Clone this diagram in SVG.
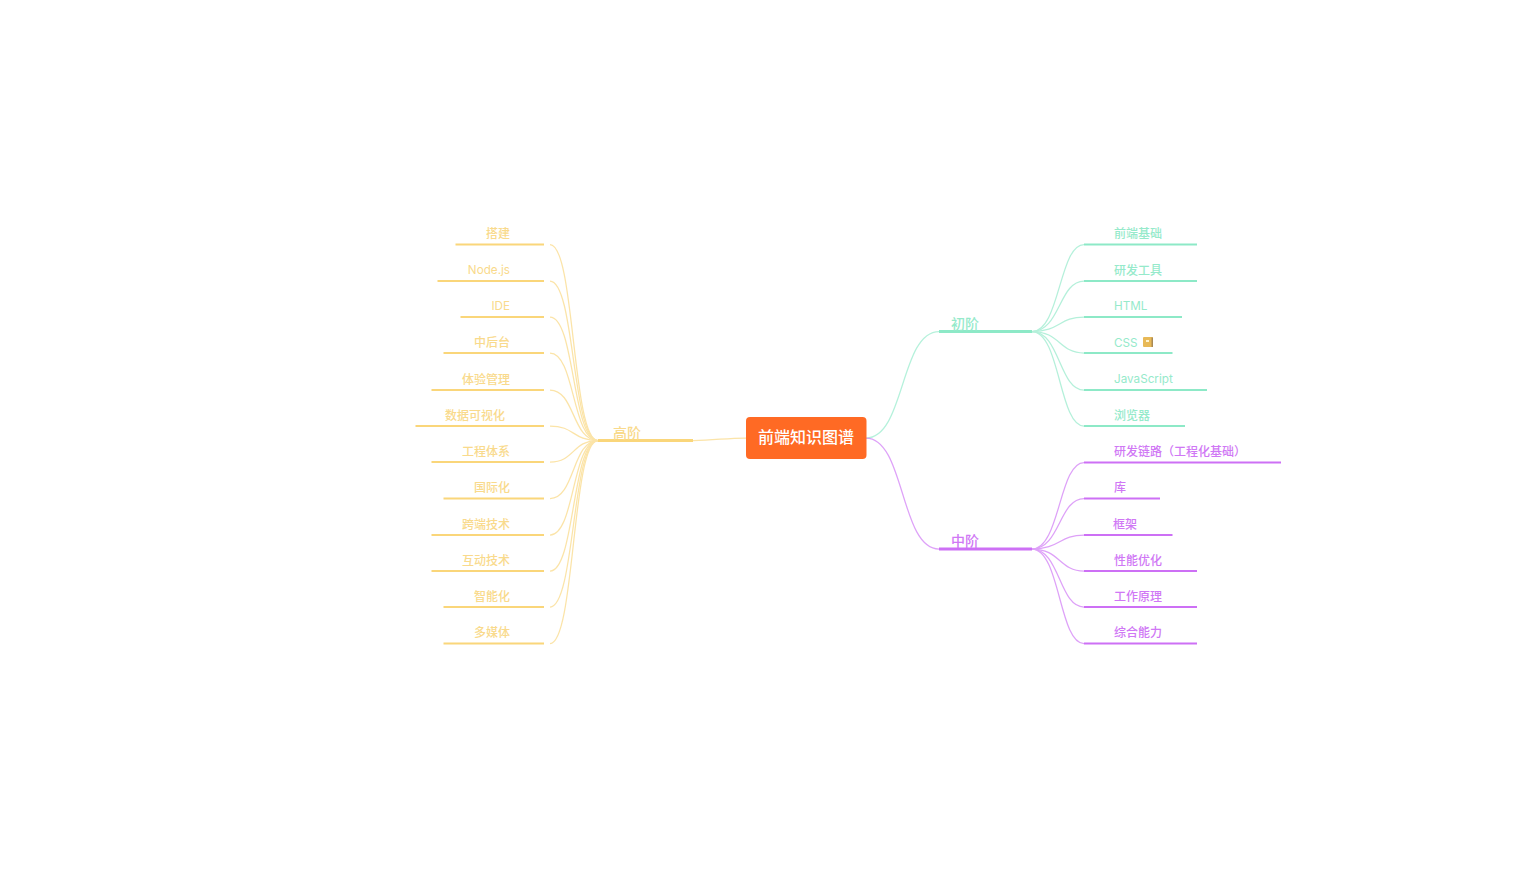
<svg xmlns="http://www.w3.org/2000/svg" width="1536" height="877" viewBox="0 0 1536 877">
<style>
text{font-family:"Inter","Noto Sans CJK SC","Noto Sans",sans-serif;font-size:12px;font-weight:500}
.m{font-size:14px}
.l{font-size:11.7px;font-weight:400}
.g{fill:#96eacb}.p{fill:#d078f5}.y{fill:#f9da8c}
.e{text-anchor:end}
.u{fill:none;stroke-width:2}
.c{fill:none;stroke-width:1.25;opacity:.65}
.gs{stroke:#8de9c7}.ps{stroke:#cd70f5}.ys{stroke:#fad67a}
.t{stroke-width:3}
</style>
<rect width="1536" height="877" fill="#fff"/>
<g id="connectors">
<g class="c gs">
<path d="M866 438C905 438 900 331.5 939 331.5"/>
<path d="M1032 331.5C1060 331.5 1059 244.5 1084 244.5"/>
<path d="M1032 331.5C1060 331.5 1059 281 1084 281"/>
<path d="M1032 331.5C1060 331.5 1059 317 1084 317"/>
<path d="M1032 331.5C1060 331.5 1059 353 1084 353"/>
<path d="M1032 331.5C1060 331.5 1059 390 1084 390"/>
<path d="M1032 331.5C1060 331.5 1059 426 1084 426"/>
</g>
<g class="c ps">
<path d="M866 438C905 438 900 549 939 549"/>
<path d="M1032 549C1060 549 1059 462.500 1084 462.500"/>
<path d="M1032 549C1060 549 1059 498.500 1084 498.500"/>
<path d="M1032 549C1060 549 1059 535 1084 535"/>
<path d="M1032 549C1060 549 1059 571 1084 571"/>
<path d="M1032 549C1060 549 1059 607 1084 607"/>
<path d="M1032 549C1060 549 1059 643.500 1084 643.500"/>
</g>
<g class="c ys">
<path d="M746 438C725 438 715 440.500 693 440.500"/>
<path d="M598 440.500C572 440.500 575 244.500 550 244.500"/>
<path d="M598 440.500C572 440.500 575 281 550 281"/>
<path d="M598 440.500C572 440.500 575 317 550 317"/>
<path d="M598 440.500C572 440.500 575 353 550 353"/>
<path d="M598 440.500C572 440.500 575 390 550 390"/>
<path d="M598 440.500C572 440.500 575 426 550 426"/>
<path d="M598 440.500C572 440.500 575 462 550 462"/>
<path d="M598 440.500C572 440.500 575 498.500 550 498.500"/>
<path d="M598 440.500C572 440.500 575 535 550 535"/>
<path d="M598 440.500C572 440.500 575 571 550 571"/>
<path d="M598 440.500C572 440.500 575 607 550 607"/>
<path d="M598 440.500C572 440.500 575 643.500 550 643.500"/>
</g>
</g>
<g id="root">
<rect x="746" y="417" width="120.500" height="42" rx="4" fill="#ff6a24"/>
<text x="806" y="443" text-anchor="middle" fill="#fff" style="font-size:16px">前端知识图谱</text>
</g>
<g id="n-chujie"><path class="u t gs" d="M939 331.500H1032"/><text class="m g" x="951" y="328.500">初阶</text></g>
<g id="n-zhongjie"><path class="u t ps" d="M939 549H1032"/><text class="m p" x="951" y="546">中阶</text></g>
<g id="n-gaojie"><path class="u t ys" d="M598 440.500H693"/><text class="m y" x="613" y="437.500">高阶</text></g>
<g id="g1"><path class="u gs" d="M1084 244.500H1197"/><text class="g" x="1114" y="238">前端基础</text></g>
<g id="g2"><path class="u gs" d="M1084 281H1197"/><text class="g" x="1114" y="274.500">研发工具</text></g>
<g id="g3"><path class="u gs" d="M1084 317H1182"/><text class="g l" x="1114" y="310">HTML</text></g>
<g id="g4"><path class="u gs" d="M1084 353H1172.500"/><text class="g l" x="1114" y="346.500">CSS</text>
<rect x="1143" y="337" width="10" height="10" rx="1" fill="#e8b957"/><rect x="1151.500" y="337.500" width="1.500" height="9.500" fill="#a98a55"/><rect x="1146" y="340" width="3" height="2" fill="#fff3cf"/></g>
<g id="g5"><path class="u gs" d="M1084 390H1207"/><text class="g l" x="1114" y="383">JavaScript</text></g>
<g id="g6"><path class="u gs" d="M1084 426H1185"/><text class="g" x="1114" y="419.500">浏览器</text></g>
<g id="p1"><path class="u ps" d="M1084 462.500H1281"/><text class="p" x="1114" y="456">研发链路（工程化基础）</text></g>
<g id="p2"><path class="u ps" d="M1084 498.500H1160"/><text class="p" x="1114" y="492">库</text></g>
<g id="p3"><path class="u ps" d="M1084 535H1172.500"/><text class="p" x="1113" y="528.500">框架</text></g>
<g id="p4"><path class="u ps" d="M1084 571H1197"/><text class="p" x="1114" y="564.500">性能优化</text></g>
<g id="p5"><path class="u ps" d="M1084 607H1197"/><text class="p" x="1114" y="601">工作原理</text></g>
<g id="p6"><path class="u ps" d="M1084 643.500H1197"/><text class="p" x="1114" y="637">综合能力</text></g>
<g id="y1"><path class="u ys" d="M455.500 244.500H544"/><text class="y e" x="510" y="238">搭建</text></g>
<g id="y2"><path class="u ys" d="M437.500 281H544"/><text class="y e l" x="510" y="274">Node.js</text></g>
<g id="y3"><path class="u ys" d="M460.500 317H544"/><text class="y e l" x="510" y="310">IDE</text></g>
<g id="y4"><path class="u ys" d="M443.500 353H544"/><text class="y e" x="510" y="347">中后台</text></g>
<g id="y5"><path class="u ys" d="M431.500 390H544"/><text class="y e" x="510" y="383.500">体验管理</text></g>
<g id="y6"><path class="u ys" d="M415.500 426H544"/><text class="y e" x="505" y="419.500">数据可视化</text></g>
<g id="y7"><path class="u ys" d="M431.500 462H544"/><text class="y e" x="510" y="456">工程体系</text></g>
<g id="y8"><path class="u ys" d="M443.500 498.500H544"/><text class="y e" x="510" y="492">国际化</text></g>
<g id="y9"><path class="u ys" d="M431.500 535H544"/><text class="y e" x="510" y="528.500">跨端技术</text></g>
<g id="y10"><path class="u ys" d="M431.500 571H544"/><text class="y e" x="510" y="564.500">互动技术</text></g>
<g id="y11"><path class="u ys" d="M443.500 607H544"/><text class="y e" x="510" y="601">智能化</text></g>
<g id="y12"><path class="u ys" d="M443.500 643.500H544"/><text class="y e" x="510" y="637">多媒体</text></g>
</svg>
